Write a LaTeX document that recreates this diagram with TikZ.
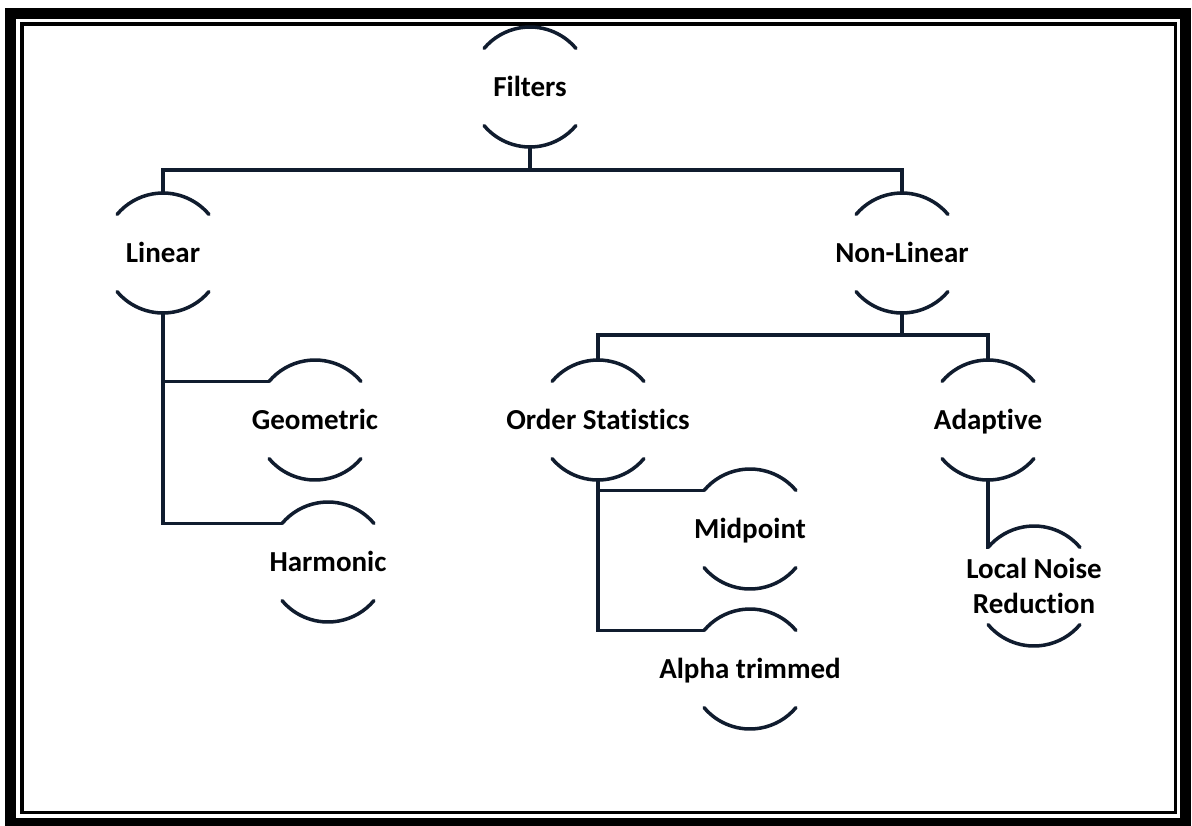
\documentclass[tikz,border=0pt]{standalone}
\usepackage{fontspec}
\setmainfont{Carlito}[Ligatures=NoCommon]
\definecolor{linec}{RGB}{16,28,46}
% a label with an arc above and one below it
\newcommand*\branchnode[4][]{%
  \node[branch,#1] (#2) at (#3) {#4};
  \draw[link] ([shift={(40:1.2cm)}]#2.center) arc (40:140:1.2cm);
  \draw[link] ([shift={(220:1.2cm)}]#2.center) arc (220:320:1.2cm);
  \coordinate (#2-t) at ([yshift=1.2cm]#2.center);
  \coordinate (#2-b) at ([yshift=-1.2cm]#2.center);
  \coordinate (#2-l) at ([shift={(140:1.2cm)}]#2.center);
}

\begin{document}
\begin{tikzpicture}[
        x=0.02cm, y=-0.02cm,
        branch/.style={font=\fontsize{16.5}{19.5}\selectfont\bfseries, align=center,
            inner sep=0pt, text height=12.5pt, text depth=2pt},
        link/.style={draw=linec, line width=2pt, line cap=round},
    ]
    \useasboundingbox (0,0) rectangle (1192,825);
    \draw[line width=0.22cm] (10.5,13.5) rectangle (1185.5,823.5);
    \draw[line width=0.07cm] (22,24) rectangle (1175.5,812.5);

    \branchnode{filters}{530,87}{Filters}
    \branchnode{linear}{163,253}{Linear}
    \branchnode{nonlinear}{902,253}{Non-Linear}
    \branchnode{geometric}{315,420}{Geometric}
    \branchnode{harmonic}{328,562}{Harmonic}
    \branchnode{orderstat}{598,420}{Order Statistics}
    \branchnode{adaptive}{988,420}{Adaptive}
    \branchnode{midpoint}{750,529}{Midpoint}
    \branchnode{alpha}{750,669}{Alpha trimmed}
    \branchnode[text height=, text depth=]{lnr}{1034,586}{Local Noise\\Reduction}

    \coordinate (bus1) at (530,170);
    \coordinate (bus2) at (902,335);

    \draw[link] (filters-b) -- (bus1);
    \draw[link] (linear-t) |- (bus1) -| (nonlinear-t);
    \draw[link] (nonlinear-b) -- (bus2);
    \draw[link] (orderstat-t) |- (bus2) -| (adaptive-t);
    \draw[link] (linear-b) |- (geometric-l);
    \draw[link] (linear-b) |- (harmonic-l);
    \draw[link] (orderstat-b) |- (midpoint-l);
    \draw[link] (orderstat-b) |- (alpha-l);
    \draw[link] (adaptive-b) |- (lnr-l);
\end{tikzpicture}
\end{document}
